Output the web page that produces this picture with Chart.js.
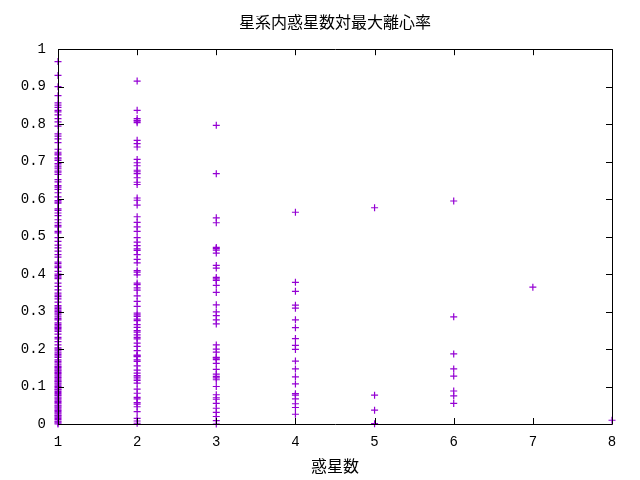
<!DOCTYPE html>
<html>
<head>
  <title>星系内惑星数対最大離心率</title>
  <script src="https://cdn.jsdelivr.net/npm/chart.js"></script>
  <style>
    body { margin: 0; background: #fff; }
    canvas { display: block; }
  </style>
</head>
<body>
  <canvas id="ecc" width="640" height="480"></canvas>

  <script>
    // max eccentricity per system, grouped by number of planets
    const ecc1 = [0.967, 0.93, 0.9, 0.876, 0.857, 0.851, 0.845, 0.837, 0.833, 0.825, 0.815, 0.806,
      0.795, 0.774, 0.768, 0.761, 0.751, 0.733, 0.725, 0.721, 0.718, 0.71, 0.707, 0.703, 0.695,
      0.691, 0.686, 0.681, 0.675, 0.672, 0.666, 0.652, 0.646, 0.636, 0.632, 0.626, 0.617, 0.606,
      0.596, 0.592, 0.589, 0.574, 0.57, 0.563, 0.556, 0.545, 0.537, 0.53, 0.526, 0.514, 0.51,
      0.497, 0.487, 0.477, 0.47, 0.461, 0.452, 0.445, 0.432, 0.428, 0.421, 0.417, 0.407, 0.4,
      0.396, 0.392, 0.388, 0.376, 0.367, 0.358, 0.349, 0.344, 0.34, 0.334, 0.325, 0.316, 0.312,
      0.308, 0.304, 0.3, 0.296, 0.291, 0.286, 0.281, 0.278, 0.27, 0.266, 0.262, 0.258, 0.255,
      0.251, 0.247, 0.24, 0.231, 0.227, 0.22, 0.211, 0.203, 0.2, 0.195, 0.19, 0.186, 0.182,
      0.178, 0.171, 0.167, 0.163, 0.158, 0.153, 0.151, 0.147, 0.144, 0.141, 0.137, 0.135, 0.131,
      0.128, 0.124, 0.122, 0.118, 0.115, 0.113, 0.109, 0.106, 0.102, 0.1, 0.097, 0.093, 0.091,
      0.087, 0.084, 0.081, 0.078, 0.076, 0.072, 0.069, 0.066, 0.062, 0.06, 0.057, 0.054, 0.05,
      0.048, 0.045, 0.042, 0.038, 0.036, 0.033, 0.03, 0.027, 0.023, 0.021, 0.018, 0.015, 0.012,
      0.008, 0.006, 0.003, 0];
    const ecc2 = [0.915, 0.837, 0.815, 0.81, 0.808, 0.804, 0.757, 0.748, 0.739, 0.706, 0.697,
      0.689, 0.677, 0.673, 0.668, 0.657, 0.645, 0.639, 0.603, 0.597, 0.584, 0.553, 0.538, 0.526,
      0.514, 0.497, 0.485, 0.476, 0.467, 0.463, 0.452, 0.439, 0.43, 0.409, 0.405, 0.398, 0.376,
      0.372, 0.363, 0.357, 0.342, 0.327, 0.314, 0.296, 0.291, 0.287, 0.28, 0.276, 0.265, 0.258,
      0.249, 0.245, 0.238, 0.231, 0.227, 0.216, 0.207, 0.196, 0.184, 0.182, 0.18, 0.171, 0.167,
      0.155, 0.144, 0.136, 0.129, 0.125, 0.12, 0.116, 0.109, 0.093, 0.082, 0.071, 0.067, 0.057,
      0.053, 0.046, 0.033, 0.015, 0.008, 0.002];
    const ecc3 = [0.797, 0.668, 0.55, 0.537, 0.471, 0.468, 0.464, 0.456, 0.423, 0.416, 0.391,
      0.387, 0.383, 0.37, 0.351, 0.318, 0.299, 0.289, 0.278, 0.267, 0.211, 0.2, 0.192, 0.178,
      0.176, 0.172, 0.162, 0.146, 0.133, 0.127, 0.123, 0.118, 0.1, 0.078, 0.07, 0.066, 0.055,
      0.042, 0.031, 0.02, 0.009, 0];
    const ecc4 = [0.565, 0.378, 0.354, 0.317, 0.309, 0.278, 0.257, 0.228, 0.21, 0.199, 0.168,
      0.147, 0.126, 0.107, 0.081, 0.077, 0.067, 0.054, 0.044, 0.026];
    const ecc5 = [0.577, 0.077, 0.037, 0.001];
    const ecc6 = [0.595, 0.286, 0.187, 0.147, 0.128, 0.088, 0.075, 0.055];
    const ecc7 = [0.365];
    const ecc8 = [0.01];

    const planetCounts = [1, 2, 3, 4, 5, 6, 7, 8];
    const yTickLabels = ['0', '0.1', '0.2', '0.3', '0.4', '0.5', '0.6', '0.7', '0.8', '0.9', '1'];
    const xTickLabels = ['1', '2', '3', '4', '5', '6', '7', '8'];

    const groups = [ecc1, ecc2, ecc3, ecc4, ecc5, ecc6, ecc7, ecc8];
    const points = [];
    groups.forEach((vals, i) => {
      vals.forEach(v => points.push({ x: planetCounts[i], y: v }));
    });

    const tickFont = { family: 'Liberation Mono', size: 14 };
    const cjkFont = { family: 'Noto Sans CJK JP', size: 16 };

    // gnuplot style box: border plus inward ticks on all four sides
    const frame = {
      id: 'frame',
      afterDatasetsDraw(chart) {
        const { ctx, chartArea: a, scales } = chart;
        const len = 6;
        ctx.save();
        ctx.strokeStyle = '#000';
        ctx.lineWidth = 1;
        ctx.beginPath();
        ctx.rect(Math.round(a.left) + 0.5, Math.round(a.top) + 0.5,
          Math.round(a.right - a.left), Math.round(a.bottom - a.top));
        scales.x.ticks.forEach(t => {
          const px = Math.round(scales.x.getPixelForValue(t.value)) + 0.5;
          ctx.moveTo(px, a.bottom); ctx.lineTo(px, a.bottom - len);
          ctx.moveTo(px, a.top); ctx.lineTo(px, a.top + len);
        });
        scales.y.ticks.forEach(t => {
          const py = Math.round(scales.y.getPixelForValue(t.value)) + 0.5;
          ctx.moveTo(a.left, py); ctx.lineTo(a.left + len, py);
          ctx.moveTo(a.right, py); ctx.lineTo(a.right - len, py);
        });
        ctx.stroke();
        ctx.restore();
      }
    };

    new Chart(document.getElementById('ecc'), {
      type: 'scatter',
      data: {
        datasets: [{
          data: points,
          pointStyle: 'cross',
          radius: 3.5,
          borderColor: '#9400d3',
          backgroundColor: '#9400d3',
          borderWidth: 1.2,
          clip: false
        }]
      },
      options: {
        responsive: false,
        animation: false,
        layout: { padding: { left: 0, right: 28, top: 0, bottom: 0 } },
        plugins: {
          legend: { display: false },
          tooltip: { enabled: false },
          title: {
            display: true,
            text: '星系内惑星数対最大離心率',
            fullSize: false,
            color: '#000',
            font: { ...cjkFont, weight: 'normal' },
            padding: { top: 12, bottom: 18 }
          }
        },
        scales: {
          x: {
            type: 'linear',
            min: 1,
            max: 8,
            grid: { display: false },
            border: { display: false },
            ticks: {
              stepSize: 1,
              color: '#000',
              font: tickFont,
              padding: 2,
              maxRotation: 0,
              callback: (v) => xTickLabels[planetCounts.indexOf(v)]
            },
            title: { display: true, text: '惑星数', color: '#000', font: cjkFont, padding: { top: 4, bottom: 4 } },
            afterFit: (s) => { s.height = 56; }
          },
          y: {
            min: 0,
            max: 1,
            grid: { display: false },
            border: { display: false },
            ticks: {
              stepSize: 0.1,
              color: '#000',
              font: tickFont,
              padding: 4,
              callback: (v) => yTickLabels[Math.round(v * 10)]
            },
            afterFit: (s) => { s.width = 58; }
          }
        }
      },
      plugins: [frame]
    });
  </script>
</body>
</html>
